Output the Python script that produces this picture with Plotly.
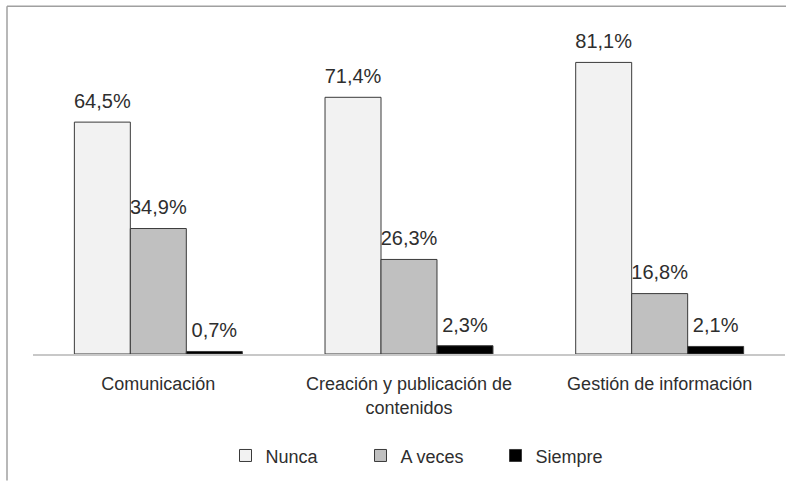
import plotly.graph_objects as go

categories = ["Comunicación", "Creación y publicación de<br>contenidos", "Gestión de información"]
series_names = ["Nunca", "A veces", "Siempre"]
nunca = [64.5, 71.4, 81.1]
a_veces = [34.9, 26.3, 16.8]
siempre = [0.7, 2.3, 2.1]
values = [nunca, a_veces, siempre]
fills = ["#f2f2f2", "#c0c0c0", "#000000"]

GAP = 0.33
fig = go.Figure()
for i, (name, vals, col) in enumerate(zip(series_names, values, fills)):
    fig.add_trace(go.Bar(
        x=categories, y=vals, name=name, offsetgroup=str(i),
        marker=dict(color=col, line=dict(color="#3a3a3a", width=1)),
    ))
for i, (name, vals) in enumerate(zip(series_names, values)):
    fig.add_trace(go.Scatter(
        x=categories, y=vals, offsetgroup=str(i), mode="markers+text",
        marker=dict(size=13, opacity=0), showlegend=False, hoverinfo="skip",
        text=[f"{v:.1f}%".replace(".", ",") for v in vals],
        textposition="top center",
        textfont=dict(family="Liberation Sans, Arial", size=20, color="#2e2e2e"),
        cliponaxis=False,
    ))

L, R, T, B = 33, 13, 20, 128
W, H = 798, 486
pw = W - L - R
ph = H - T - B

def px_to_paper_x(x):
    return (x - L) / pw

def px_to_paper_y(y):
    return (H - B - y) / ph

fig.update_layout(
    width=W, height=H,
    margin=dict(l=L, r=R, t=T, b=B),
    paper_bgcolor="white", plot_bgcolor="white",
    barmode="group", bargap=GAP, bargroupgap=0,
    scattermode="group", scattergap=GAP,
    font=dict(family="Liberation Sans, Arial", size=18, color="#2e2e2e"),
    xaxis=dict(showline=True, linecolor="#c8c8c8", linewidth=1.5, ticks="",
               tickfont=dict(size=18, color="#2e2e2e"), showgrid=False,
               ticklabelstandoff=13),
    yaxis=dict(range=[0, 92.9], visible=False, showgrid=False),
    legend=dict(orientation="h", x=px_to_paper_x(428), xanchor="center",
                y=px_to_paper_y(461), yanchor="middle",
                font=dict(size=18, color="#2e2e2e"), entrywidth=90, itemwidth=30,
                traceorder="normal"),
    shapes=[
        dict(type="line", xref="paper", yref="paper",
             x0=px_to_paper_x(7), x1=px_to_paper_x(786), y0=px_to_paper_y(6), y1=px_to_paper_y(6),
             line=dict(color="#a0a0a0", width=1.5)),
        dict(type="line", xref="paper", yref="paper",
             x0=px_to_paper_x(7), x1=px_to_paper_x(7), y0=px_to_paper_y(6), y1=px_to_paper_y(486),
             line=dict(color="#a0a0a0", width=1.5)),
    ],
)

fig.write_html("out.html", config={"displayModeBar": False},
               post_script="document.body.style.margin='0px';")
